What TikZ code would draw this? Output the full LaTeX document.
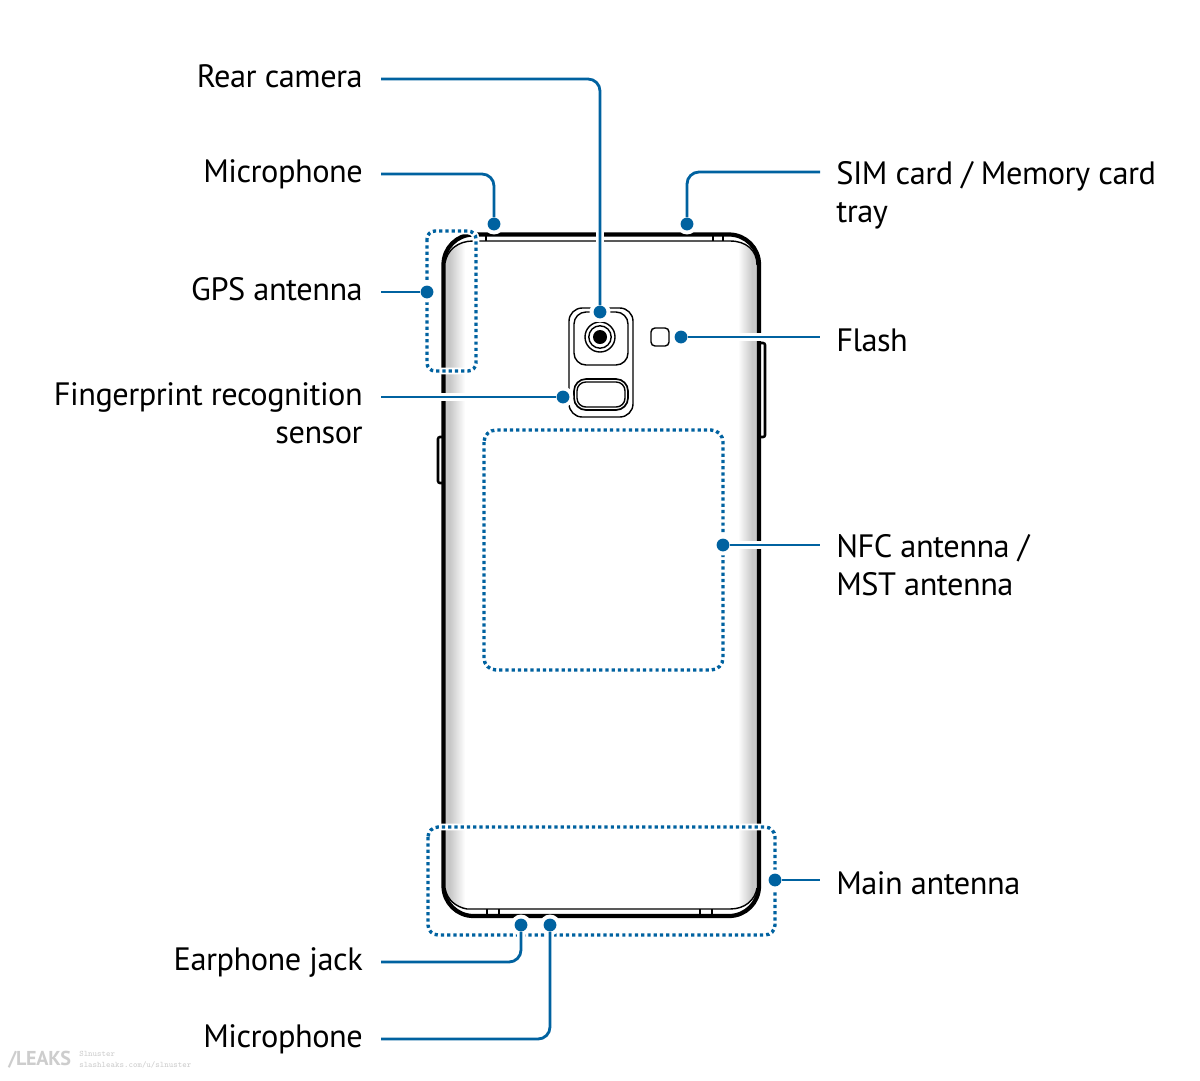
\documentclass[tikz,border=0pt]{standalone}
\usepackage{fontspec}
\setmainfont[LetterSpace=-1.5]{PT Sans}
\usepackage{tikz}
\usetikzlibrary{arrows.meta,positioning,calc}
\definecolor{leadblue}{RGB}{0,98,160}
\definecolor{edgegray}{RGB}{200,200,200}
\definecolor{markgray}{RGB}{205,205,205}

\begin{document}
\begin{tikzpicture}[
    x=0.025cm,y=-0.025cm,
    lblleft/.style={anchor=east,inner xsep=0.45cm,inner ysep=0pt,text height=17pt,text depth=5pt,font=\fontsize{23}{27}\selectfont},
    lblright/.style={anchor=west,inner xsep=0.4cm,inner ysep=0pt,text height=25.5pt,text depth=5pt,font=\fontsize{23}{27}\selectfont},
    lbltwo/.style={inner xsep=0.45cm,inner ysep=0pt,font=\fontsize{23}{27}\selectfont},
    leaddot/.style={circle,fill=leadblue,inner sep=0pt,minimum size=0.32cm,preaction={draw=white,line width=0.2cm}},
    lead/.style={draw=leadblue,line width=2pt,rounded corners=0.3cm,preaction={draw=white,line width=5.5pt}},
    antbox/.style={draw=leadblue,line width=2.4pt,dash pattern=on 2.3pt off 2.15pt,preaction={draw=white,solid,line width=4.8pt}},
    thinline/.style={draw=black,line width=1pt},
    phoneline/.style={draw=black,line width=3pt}
]
\fill[white] (0,0) rectangle (1200,1080);
\useasboundingbox (0,0) rectangle (1200,1080);

\begin{scope}
\clip (445,263) .. controls (447,250) and (458,241) .. (473,241) -- (730,241) .. controls (746,241) and (757,250) .. (757,265) -- (757,888) .. controls (755,900) and (745,909) .. (730,909) -- (467,909) .. controls (456,907) and (447,900) .. (445,888) -- cycle;
\fill[edgegray] (445,233) rectangle (450,917);
\shade[left color=edgegray,right color=white] (450,233) rectangle (465,917);
\shade[left color=white,right color=edgegray] (738,233) rectangle (752,917);
\fill[edgegray] (752,233) rectangle (757,917);
\end{scope}

\draw[thinline] (445,263) .. controls (447,250) and (458,241) .. (473,241) -- (730,241) .. controls (746,241) and (757,250) .. (757,265);
\draw[thinline] (445,888) .. controls (447,900) and (456,907) .. (467,909) -- (730,909) .. controls (745,909) and (755,900) .. (757,888);
\foreach \tx in {486,713,723} \draw[thinline] (\tx,234) -- (\tx,241);
\foreach \tx in {487,499,700,712} \draw[thinline] (\tx,909) -- (\tx,916);
\draw[phoneline,rounded corners=0.75cm] (443.5,234.5) rectangle (759,916);
\draw[draw=black,line width=1.8pt,rounded corners=0.05cm] (442,437) -- (438,437) -- (438,483) -- (442,483);
\draw[draw=black,line width=1.8pt,rounded corners=0.05cm] (760,343) -- (765,343) -- (765,437) -- (760,437);

\draw[thinline,rounded corners=0.33cm] (569,308) rectangle (633,417);
\draw[thinline,rounded corners=0.3cm] (574,312) rectangle (628,365);
\draw[thinline,line width=1.2pt,rounded corners=0.3cm] (574,379) rectangle (628,410);
\draw[thinline,rounded corners=0.22cm] (577,382) rectangle (625,407);
\draw[thinline] (600,337) circle [radius=0.375cm];
\draw[thinline] (600,337) circle [radius=0.28cm];
\fill[black] (600,337) circle [radius=0.175cm];
\draw[thinline,rounded corners=0.1cm] (651,328) rectangle (669,346);

\draw[antbox,rounded corners=0.2cm] (427,231) rectangle (476,371);
\draw[antbox,rounded corners=0.3cm] (484,430) rectangle (723,670);
\draw[antbox,rounded corners=0.25cm] (428,827) rectangle (775,935);

\node[leaddot] (drear) at (600,312) {};
\node[leaddot] (dmictop) at (494,224) {};
\node[leaddot] (dsim) at (687,224) {};
\node[leaddot] (dgps) at (427,292) {};
\node[leaddot] (dflash) at (681,337) {};
\node[leaddot] (dfinger) at (563,397) {};
\node[leaddot] (dnfc) at (723,545) {};
\node[leaddot] (dmain) at (775,880) {};
\node[leaddot] (djack) at (521,925) {};
\node[leaddot] (dmicbot) at (550,925) {};

\node[lblleft] (lrear) at (381,79) {Rear camera};
\node[lblleft] (lmictop) at (381,174) {Microphone};
\node[lblleft] (lgps) at (381,292) {GPS antenna};
\node[lblleft] (ljack) at (381,962) {Earphone jack};
\node[lblleft] (lmicbot) at (381,1039) {Microphone};
\node[lbltwo,anchor=north east,align=right] (lfinger) at (381,382) {Fingerprint recognition\\sensor};
\coordinate (cfinger) at (381,397);
\node[lbltwo,anchor=north west,inner xsep=0.4cm,align=left] (lsim) at (820,161) {SIM card / Memory card\\tray};
\coordinate (csim) at (820,172);
\node[lblright] (lflash) at (820,337) {Flash};
\node[lbltwo,anchor=north west,inner xsep=0.4cm,align=left] (lnfc) at (820,534) {NFC antenna /\\MST antenna};
\coordinate (cnfc) at (820,545);
\node[lblright] (lmain) at (820,880) {Main antenna};

\draw[lead] (lrear.east) -| (drear);
\draw[lead] (lmictop.east) -| (dmictop);
\draw[lead] (csim) -| (dsim);
\draw[lead] (lgps.east) -- (dgps);
\draw[lead] (cfinger) -- (dfinger);
\draw[lead] (dflash) -- (lflash.west);
\draw[lead] (dnfc) -- (cnfc);
\draw[lead] (dmain) -- (lmain.west);
\draw[lead] (ljack.east) -| (djack);
\draw[lead] (lmicbot.east) -| (dmicbot);

\node[anchor=west,inner sep=0pt,text=markgray,font=\bfseries\fontsize{14.3}{14}\selectfont] (wmark) at (8,1060) {/LEAKS};
\node[anchor=west,inner sep=0pt,align=left,text=markgray,font=\ttfamily\fontsize{6}{7.6}\selectfont] (wsite) at (79,1060) {Slnuster\\slashleaks.com/u/slnuster};
\end{tikzpicture}
\end{document}
